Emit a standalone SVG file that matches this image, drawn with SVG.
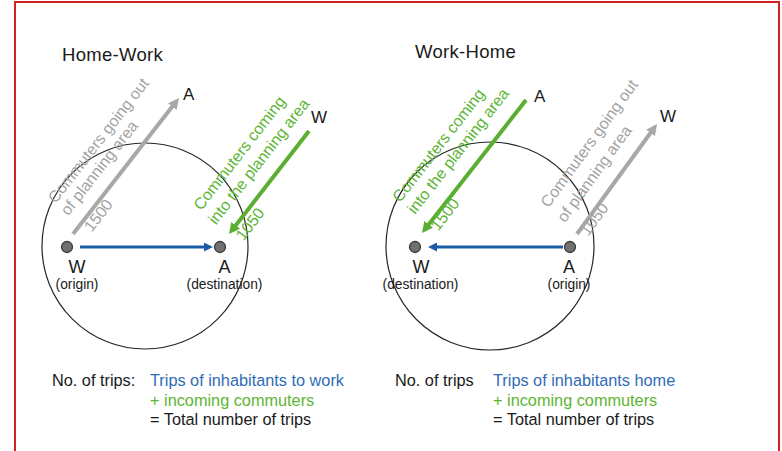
<svg xmlns="http://www.w3.org/2000/svg" width="782" height="451" viewBox="0 0 782 451">
<style>
text{font-family:"Liberation Sans",Arial,sans-serif;}
.title{font-size:18.5px;fill:#1a1a1a;letter-spacing:0.3px;}
.lbl{font-size:18px;fill:#1a1a1a;text-anchor:middle;}
.sub{font-size:13.8px;fill:#1a1a1a;text-anchor:middle;}
.end{font-size:17px;fill:#1a1a1a;}
.body{font-size:16.3px;fill:#1a1a1a;}
.blue{fill:#2f6cb5;}
.green{fill:#5db534;}
.rg{font-size:16px;fill:#a3a3a3;}
.rn{font-size:16px;fill:#5db534;}
.circ{fill:none;stroke:#262626;stroke-width:1.2;}
.dot{fill:#707070;stroke:#3c3c3c;stroke-width:1.3;}
.ag{stroke:#a8a8a8;stroke-width:4;fill:none;marker-end:url(#mg);}
.an{stroke:#5aae32;stroke-width:4;fill:none;marker-end:url(#mn);}
.ab{stroke:#1b5ca6;stroke-width:3;fill:none;marker-end:url(#mb);}
</style>
<defs>
<marker id="mg" viewBox="0 0 11 11" refX="2" refY="5.5" markerWidth="11" markerHeight="11" markerUnits="userSpaceOnUse" orient="auto"><path d="M0,0 L11,5.5 L0,11 z" fill="#a8a8a8"/></marker>
<marker id="mn" viewBox="0 0 11 11" refX="2" refY="5.5" markerWidth="11" markerHeight="11" markerUnits="userSpaceOnUse" orient="auto"><path d="M0,0 L11,5.5 L0,11 z" fill="#5aae32"/></marker>
<marker id="mb" viewBox="0 0 9 9" refX="2" refY="4.5" markerWidth="9" markerHeight="9" markerUnits="userSpaceOnUse" orient="auto"><path d="M0,0 L9,4.5 L0,9 z" fill="#1b5ca6"/></marker>
</defs>
<rect x="0" y="0" width="782" height="451" fill="#ffffff"/>
<rect x="15" y="2" width="764" height="460" fill="none" stroke="#d42020" stroke-width="2"/>

<g id="titles">
<text class="title" x="62" y="61">Home-Work</text>
<text class="title" x="415" y="58">Work-Home</text>
</g>

<g id="area-left"><circle class="circ" cx="145" cy="246" r="103"/></g>
<g id="area-right"><circle class="circ" cx="490" cy="246" r="104"/></g>

<g id="connectors">
<line class="ag" x1="73" y1="234" x2="173.5" y2="105.1"/>
<line class="an" x1="309" y1="131" x2="234.5" y2="226.9"/>
<line class="ab" x1="80" y1="247" x2="206" y2="247"/>
<line class="an" x1="526" y1="100" x2="427.5" y2="225.9"/>
<line class="ag" x1="577" y1="234" x2="651.7" y2="131.3"/>
<line class="ab" x1="563" y1="247" x2="435" y2="247"/>
</g>

<g id="left-out-label" transform="translate(73,234) rotate(-52.1)">
<text class="rg" x="13" y="-32">Commuters going out</text>
<text class="rg" x="11" y="-14.5">of planning area</text>
<text class="rg" x="12.5" y="14">1500</text>
</g>
<g id="left-in-label" transform="translate(229,234) rotate(-52.2)">
<text class="rn" x="1" y="-36">Commuters coming</text>
<text class="rn" x="-1.4" y="-15.5">into the planning area</text>
<text class="rn" x="3" y="16">1050</text>
</g>
<g id="right-in-label" transform="translate(422,233) rotate(-52)">
<text class="rn" x="10" y="-35.6">Commuters coming</text>
<text class="rn" x="10" y="-16.6">into the planning area</text>
<text class="rn" x="11" y="12">1500</text>
</g>
<g id="right-out-label" transform="translate(577,234) rotate(-54)">
<text class="rg" x="4" y="-38">Commuters going out</text>
<text class="rg" x="1.6" y="-16">of planning area</text>
<text class="rg" x="4.4" y="10.7">1050</text>
</g>

<g id="left-ext-A"><text class="end" x="183" y="99.5">A</text></g>
<g id="left-ext-W"><text class="end" x="311" y="122.7">W</text></g>
<g id="right-ext-A"><text class="end" x="534" y="101.5">A</text></g>
<g id="right-ext-W"><text class="end" x="660" y="122">W</text></g>

<g id="left-W">
<circle class="dot" cx="67" cy="247" r="5.5"/>
<text class="lbl" x="77" y="273">W</text>
<text class="sub" x="77" y="289">(origin)</text>
</g>
<g id="left-A">
<circle class="dot" cx="220" cy="247" r="5.5"/>
<text class="lbl" x="224.5" y="273">A</text>
<text class="sub" x="224.5" y="289">(destination)</text>
</g>
<g id="right-W">
<circle class="dot" cx="415" cy="247" r="5.5"/>
<text class="lbl" x="421" y="273">W</text>
<text class="sub" x="420.5" y="289">(destination)</text>
</g>
<g id="right-A">
<circle class="dot" cx="570" cy="247" r="5.5"/>
<text class="lbl" x="569" y="273">A</text>
<text class="sub" x="569" y="289">(origin)</text>
</g>

<g id="formula-left">
<text class="body" x="52" y="386">No. of trips:</text>
<text class="body blue" x="150" y="386">Trips of inhabitants to work</text>
<text class="body green" x="150" y="405.5">+ incoming commuters</text>
<text class="body" x="150" y="425">= Total number of trips</text>
</g>
<g id="formula-right">
<text class="body" x="395" y="386">No. of trips</text>
<text class="body blue" x="493" y="386">Trips of inhabitants home</text>
<text class="body green" x="493" y="405.5">+ incoming commuters</text>
<text class="body" x="493" y="425">= Total number of trips</text>
</g>
</svg>
